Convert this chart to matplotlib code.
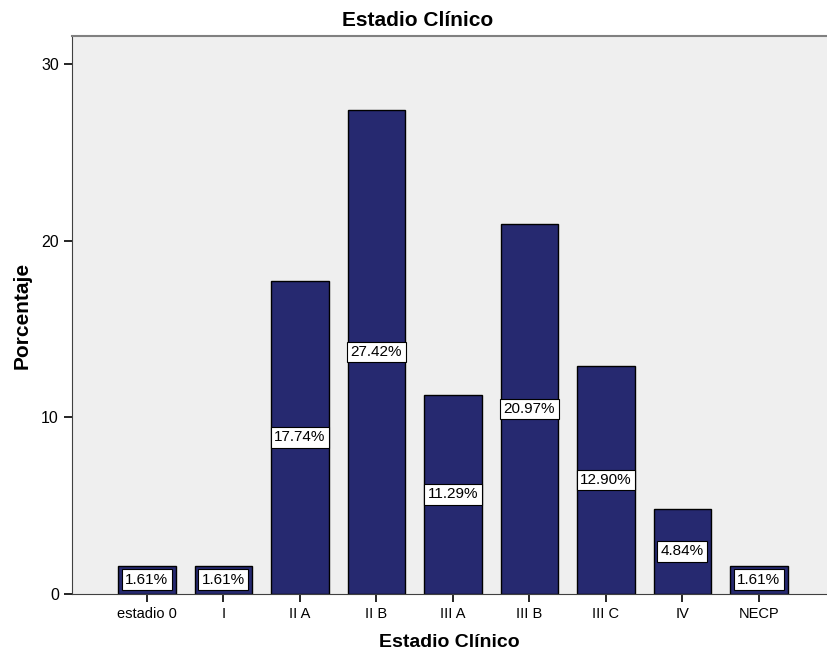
import matplotlib.pyplot as plt

categories = ['estadio 0', 'I', 'II A', 'II B', 'III A', 'III B', 'III C', 'IV', 'NECP']
percentages = [1.61, 1.61, 17.74, 27.42, 11.29, 20.97, 12.90, 4.84, 1.61]
y_ticks = [0, 10, 20, 30]

plt.rcParams['font.family'] = ['Liberation Sans', 'DejaVu Sans']

fig = plt.figure(figsize=(8.27, 6.56), dpi=100)
ax = fig.add_axes([0.087, 0.0945, 0.913, 0.8505])
ax.set_facecolor('#efefef')

x = range(len(categories))
bars = ax.bar(x, percentages, width=0.75, color='#262970', edgecolor='black', linewidth=1)

for xi, v in zip(x, percentages):
    ax.text(xi, v / 2, '%.2f%%' % v, ha='center', va='center', fontsize=11,
            bbox=dict(boxstyle='square,pad=0.22', facecolor='white', edgecolor='black', linewidth=0.8))

ax.set_xlim(-0.98, 8.89)
ax.set_ylim(0, 31.6)
ax.set_xticks(list(x))
ax.set_xticklabels(categories, fontsize=10.5)
ax.set_yticks(y_ticks)
ax.tick_params(axis='y', labelsize=11.5, length=6, width=1.2)
ax.tick_params(axis='x', length=6, width=1.2)

ax.spines['right'].set_visible(False)
ax.spines['top'].set_color('#808080')
ax.spines['top'].set_linewidth(1.5)
ax.spines['left'].set_color('#404040')
ax.spines['bottom'].set_color('#404040')

fig.suptitle('Estadio Clínico', x=0.505, y=0.968, va='center', fontsize=15, fontweight='bold')
ax.set_xlabel('Estadio Clínico', fontsize=14, fontweight='bold', labelpad=9)
ax.set_ylabel('Porcentaje', fontsize=15, fontweight='bold', labelpad=7)

fig.savefig('out.png', dpi=100)
